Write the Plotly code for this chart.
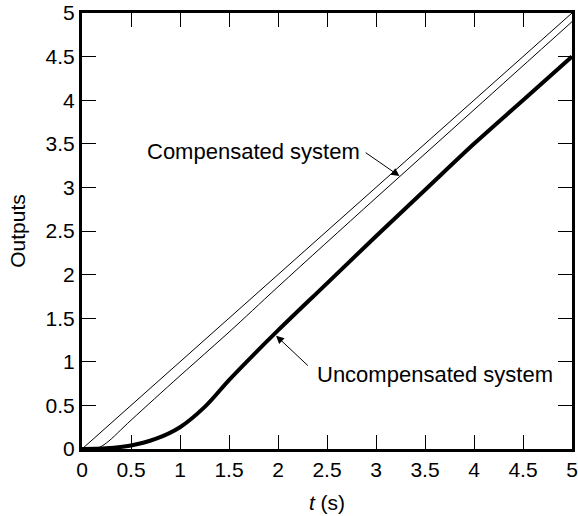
import plotly.graph_objects as go

# Ramp input r(t) = t
t_ramp = [0, 5]
y_ramp = [0, 5]

# Compensated system ramp response
t_comp = [0, 0.1, 0.16, 0.25, 0.5, 1.0, 1.5, 2.0, 3.0, 4.0, 5.0]
y_comp = [0, 0.002, 0.01, 0.07, 0.33, 0.84, 1.34, 1.86, 2.88, 3.89, 4.9]

# Uncompensated system ramp response
t_unc = [0, 0.25, 0.5, 0.75, 1.0, 1.25, 1.5, 1.75, 2.0, 2.5, 3.0, 3.5, 4.0, 4.5, 5.0]
y_unc = [0, 0.008, 0.04, 0.115, 0.25, 0.48, 0.79, 1.08, 1.36, 1.9, 2.44, 2.97, 3.5, 4.0, 4.5]

x_ticks = [0, 0.5, 1, 1.5, 2, 2.5, 3, 3.5, 4, 4.5, 5]
x_tick_text = ["0", "0.5", "1", "1.5", "2", "2.5", "3", "3.5", "4", "4.5", "5"]
y_ticks = x_ticks
y_tick_text = x_tick_text

FONT = "Liberation Sans, Arial, sans-serif"
FS = 21
FS_NOTE = 22

fig = go.Figure()
fig.add_trace(go.Scatter(x=t_ramp, y=y_ramp, mode="lines",
                         line=dict(color="black", width=1), showlegend=False))
fig.add_trace(go.Scatter(x=t_comp, y=y_comp, mode="lines",
                         line=dict(color="black", width=1, shape="spline", smoothing=1),
                         showlegend=False))
fig.add_trace(go.Scatter(x=t_unc, y=y_unc, mode="lines",
                         line=dict(color="black", width=4, shape="spline", smoothing=1),
                         showlegend=False))

fig.add_annotation(x=3.24, y=3.13, ax=2.88, ay=3.41, xref="x", yref="y",
                   axref="x", ayref="y", text="", showarrow=True,
                   arrowhead=2, arrowsize=1.6, arrowwidth=1, arrowcolor="black")
fig.add_annotation(x=2.86, y=3.41, xref="x", yref="y", text="Compensated system",
                   showarrow=False, xanchor="right", yanchor="middle",
                   font=dict(family=FONT, size=FS_NOTE, color="black"))

fig.add_annotation(x=1.98, y=1.3, ax=2.32, ay=0.94, xref="x", yref="y",
                   axref="x", ayref="y", text="", showarrow=True,
                   arrowhead=2, arrowsize=1.6, arrowwidth=1, arrowcolor="black")
fig.add_annotation(x=2.38, y=0.85, xref="x", yref="y", text="Uncompensated system",
                   showarrow=False, xanchor="left", yanchor="middle",
                   font=dict(family=FONT, size=FS_NOTE, color="black"))

axis_common = dict(
    range=[0, 5], showgrid=False, zeroline=False, automargin=False,
    showline=True, linewidth=3, linecolor="black", mirror="allticks",
    ticks="inside", ticklen=14, tickwidth=1, tickcolor="black",
    tickfont=dict(family=FONT, size=FS, color="black"),
)

fig.update_xaxes(**axis_common, tickvals=x_ticks, ticktext=x_tick_text,
                 title=dict(text="<i>t</i> (s)", standoff=16,
                            font=dict(family=FONT, size=FS, color="black")))
fig.update_yaxes(**axis_common, tickvals=y_ticks, ticktext=y_tick_text,
                 title=dict(text="Outputs", standoff=15,
                            font=dict(family=FONT, size=FS, color="black")))

fig.update_layout(
    width=578, height=516,
    margin=dict(l=82, r=6, t=13, b=67),
    paper_bgcolor="white", plot_bgcolor="white",
)

fig.write_html("out.html")
